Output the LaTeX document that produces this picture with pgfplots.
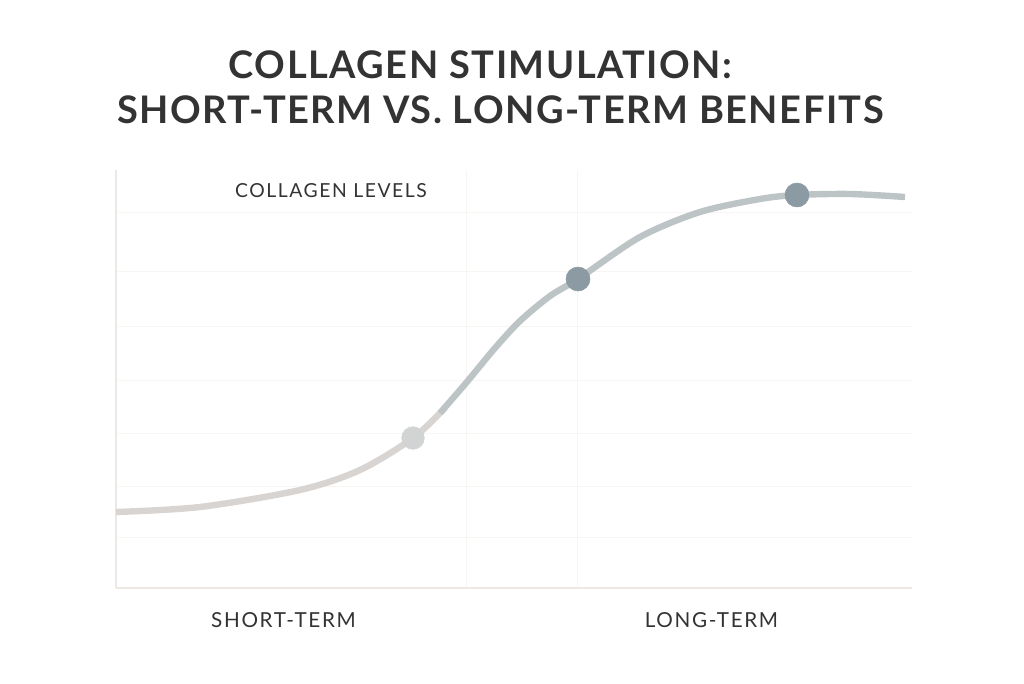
\documentclass[border=0pt]{standalone}
\usepackage{fontspec}
\setmainfont{Lato}
\newfontfamily\titlefont[LetterSpace=4]{Lato Bold}
\newfontfamily\labelfont[LetterSpace=8]{Lato}
\usepackage{pgfplots}
\pgfplotsset{compat=1.18}
\definecolor{axcol}{HTML}{ECE8E4}
\definecolor{gridcol}{HTML}{F7F6F3}
\definecolor{linel}{HTML}{D8D4D2}
\definecolor{liner}{HTML}{BCC4C6}
\definecolor{mlight}{HTML}{D2D4D4}
\definecolor{mdark}{HTML}{8C9BA3}
\definecolor{txt}{HTML}{333333}
\begin{document}
\begin{tikzpicture}
\path[use as bounding box] (0,0) rectangle (768pt,512.25pt);
\begin{axis}[
  at={(87pt,71.25pt)}, anchor=south west,
  scale only axis, width=597pt, height=313.5pt,
  xmin=116, xmax=912, ymin=0, ymax=418,
  axis x line=bottom, axis y line=left,
  axis line style={axcol, line width=2.2pt, -},
  xtick={466,577}, ytick={51,102,155,208,262,317,376},
  xticklabels={}, yticklabels={},
  major tick length=0pt,
  grid=major, major grid style={gridcol, line width=0.6pt},
  clip=false,
]
\addplot[linel, line width=4.8pt, smooth, tension=0.5] coordinates {
  (116,76) (200,81) (300,98) (360,118) (413,150) (445,180)
};
\addplot[liner, line width=4.8pt, smooth, tension=0.5] coordinates {
  (440,175) (466,205) (495,240) (520,267) (550,292) (578,309) (640,351) (700,376) (760,389) (797,393) (850,394) (905,391)
};
\addplot[only marks, mark=*, mark size=8.5pt, color=mlight, fill=mlight] coordinates {(413,150)};
\addplot[only marks, mark=*, mark size=9pt, color=mdark, fill=mdark] coordinates {(578,309) (797,393)};
\end{axis}
\node[txt, font={\titlefont\fontsize{28.5}{34}\selectfont}] at (360.4pt,463.5pt) {COLLAGEN STIMULATION:};
\node[txt, font={\titlefont\fontsize{28.5}{34}\selectfont}] at (375.4pt,429.75pt) {SHORT-TERM VS. LONG-TERM BENEFITS};
\node[txt, font={\labelfont\fontsize{14.5}{17}\selectfont}] at (248.25pt,369pt) {COLLAGEN LEVELS};
\node[txt, font={\labelfont\fontsize{15.5}{18}\selectfont}] at (212.6pt,47.25pt) {SHORT-TERM};
\node[txt, font={\labelfont\fontsize{15.5}{18}\selectfont}] at (533.6pt,47.25pt) {LONG-TERM};
\end{tikzpicture}
\end{document}
